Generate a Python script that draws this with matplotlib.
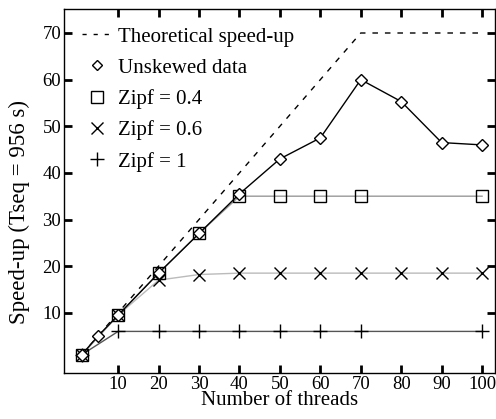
import matplotlib.pyplot as plt
from matplotlib.lines import Line2D

plt.rcParams['font.family'] = ['Liberation Serif', 'DejaVu Serif']

threads = [1, 5, 10, 20, 30, 40, 50, 60, 70, 80, 90, 100]
theory_x = [1, 70, 100]
theory_y = [1, 70, 70]
unskewed = [1, 5, 9.5, 18.5, 27, 35.5, 43, 47.5, 60, 55.3, 46.5, 46]

zipf_x = [1, 10, 20, 30, 40, 50, 60, 70, 80, 90, 100]
zipf04 = [1, 9.5, 18.5, 27, 35, 35, 35, 35, 35, 35, 35]
zipf06 = [1, 9.5, 17, 18.2, 18.5, 18.5, 18.5, 18.5, 18.5, 18.5, 18.5]
zipf1 = [1, 6, 6, 6, 6, 6, 6, 6, 6, 6, 6]

fig, ax = plt.subplots(figsize=(4.96, 4.19), dpi=100)
fig.subplots_adjust(left=0.129, right=0.998, top=0.978, bottom=0.11)

ax.plot(theory_x, theory_y, color='black', linestyle=(0, (4, 5)), linewidth=1)
# marker-less points at 80/90 for some series, like the original
ax.plot(zipf_x, zipf1, color='#555555', linewidth=1, marker='+', markersize=10,
        markeredgecolor='black', markevery=[0, 1, 2, 3, 4, 5, 6, 7, 10])
ax.plot(zipf_x, zipf06, color='#bbbbbb', linewidth=1, marker='x', markersize=9,
        markeredgecolor='black', markeredgewidth=1)
ax.plot(zipf_x, zipf04, color='#999999', linewidth=1, marker='s', markersize=8,
        markerfacecolor='none', markeredgecolor='black', markevery=[0, 1, 2, 3, 4, 5, 6, 7, 10])
ax.plot(threads, unskewed, color='black', linewidth=1, marker='D', markersize=6.5,
        markerfacecolor='white', markeredgecolor='black')

ax.set_xlim(-3.4, 103.2)
ax.set_ylim(-2.9, 75.1)
ax.set_xticks(range(10, 101, 10))
ax.set_yticks(range(10, 71, 10))
ax.tick_params(direction='in', length=6, width=2, top=True, right=True, labelsize=13.5, pad=2)
for s in ax.spines.values():
    s.set_linewidth(1)

ax.set_xlabel('Number of threads', fontsize=15, labelpad=-1)
ax.set_ylabel('Speed-up (Tseq = 956 s)', fontsize=16.5)
ax.yaxis.set_label_coords(-0.08, 0.442)

handles = [
    Line2D([], [], color='black', linestyle=(0, (3, 5)), linewidth=1),
    Line2D([], [], linestyle='none', marker='D', markersize=5, markerfacecolor='white', markeredgecolor='black'),
    Line2D([], [], linestyle='none', marker='s', markersize=8, markerfacecolor='none', markeredgecolor='black'),
    Line2D([], [], linestyle='none', marker='x', markersize=9, markeredgecolor='black'),
    Line2D([], [], linestyle='none', marker='+', markersize=10, markeredgecolor='black'),
]
labels = ['Theoretical speed-up', 'Unskewed data', 'Zipf = 0.4', 'Zipf = 0.6', 'Zipf = 1']
ax.legend(handles, labels, loc='upper left', frameon=False, fontsize=15,
          handlelength=1.5, labelspacing=0.55, borderaxespad=0.45, handletextpad=0.25,
          borderpad=0.4)

plt.savefig('out.png')
